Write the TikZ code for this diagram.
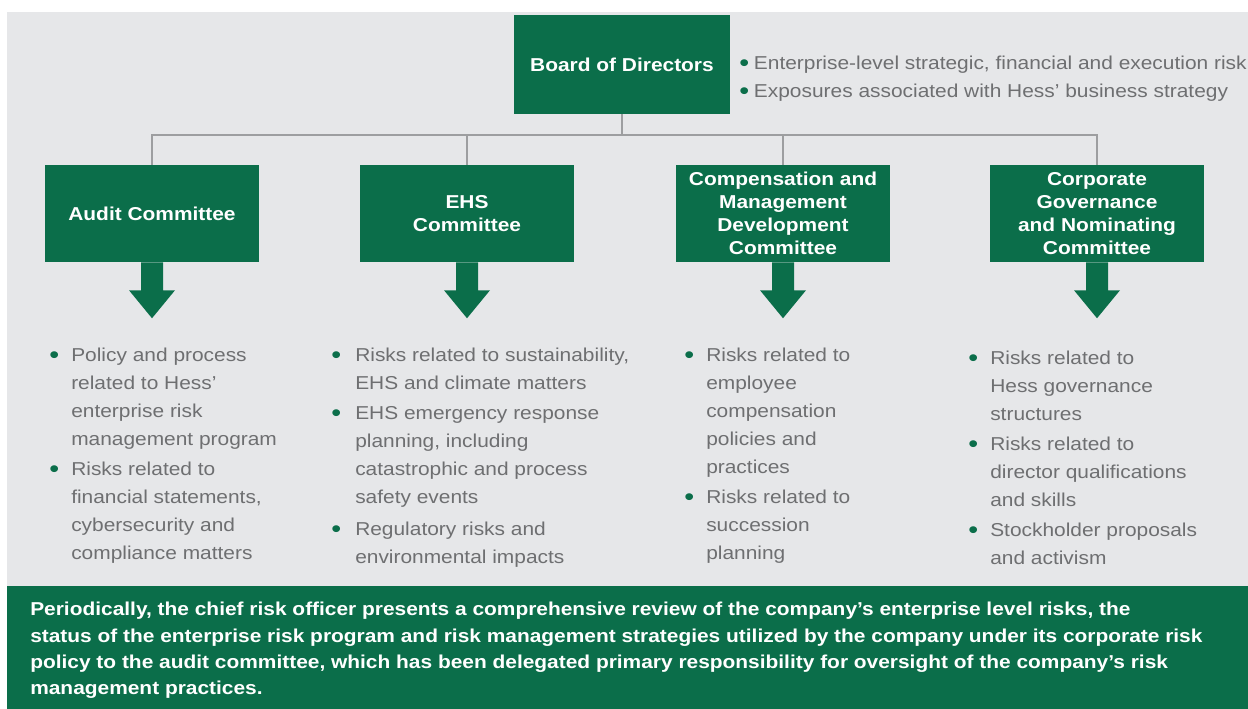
\documentclass[tikz,border=0pt]{standalone}
\usepackage{fontspec}
\setmainfont{Liberation Sans}[FakeStretch=1.12]
\usepackage{xcolor}
\usepackage{graphicx}
\usetikzlibrary{calc}
\usetikzlibrary{positioning}

\definecolor{hessgreen}{HTML}{0B6E4A}
\definecolor{panelgrey}{HTML}{E6E7E9}
\definecolor{linegrey}{HTML}{9D9EA0}
\definecolor{textgrey}{HTML}{6E6F71}

\newcommand{\bul}{\raisebox{-1.2pt}{\textcolor{hessgreen}{\scalebox{1.35}{\textbullet}}}}

\tikzset{
    board/.style={rectangle, fill=hessgreen, text=white, font=\bfseries\fontsize{14}{18}\selectfont, minimum width=162pt, minimum height=74.25pt, inner sep=0pt},
    committee/.style={rectangle, fill=hessgreen, text=white, font=\bfseries\fontsize{14}{17.25}\selectfont, minimum width=160.5pt, minimum height=72.75pt, align=center, inner sep=0pt},
    risklist/.style={inner sep=0pt, anchor=north west, text=textgrey, font=\fontsize{14}{21}\selectfont},
    tree/.style={draw=linegrey, line width=1.5pt},
    bigarrow/.style={fill=hessgreen}
}

\begin{document}
\begin{tikzpicture}[x=0.75pt, y=-0.75pt]
    \useasboundingbox (0,0) rectangle (1248,709);
    \fill[panelgrey] (7,12) rectangle (1248,586);

    \node [board] (board) at (622,64.5) {Board of Directors};
    \node [risklist, anchor=west] (boardlist) at (739,78) {\begin{tabular}{@{}p{11pt}@{}l@{}}\bul & Enterprise-level strategic, financial and execution risk\\ \bul & Exposures associated with Hess' business strategy\end{tabular}};

    \node [committee] (audit) at (152,213.5) {Audit Committee};
    \node [committee] (ehs) at (467,213.5) {EHS\\Committee};
    \node [committee] (comp) at (783,213.5) {Compensation and\\Management\\Development\\Committee};
    \node [committee] (corp) at (1097,213.5) {Corporate\\Governance\\and Nominating\\Committee};

    \draw [tree] (board.south) -- ++(0,20.5) coordinate (split) -| (audit.north);
    \draw [tree] (split) -| (ehs.north);
    \draw [tree] (split) -| (comp.north);
    \draw [tree] (split) -| (corp.north);

    \fill [bigarrow] ($(audit.south)+(-11,0)$) -- ++(0,28) -- ++(-12,0) -- ++(23,28) -- ++(23,-28) -- ++(-12,0) -- ++(0,-28) -- cycle;
    \fill [bigarrow] ($(ehs.south)+(-11,0)$) -- ++(0,28) -- ++(-12,0) -- ++(23,28) -- ++(23,-28) -- ++(-12,0) -- ++(0,-28) -- cycle;
    \fill [bigarrow] ($(comp.south)+(-11,0)$) -- ++(0,28) -- ++(-12,0) -- ++(23,28) -- ++(23,-28) -- ++(-12,0) -- ++(0,-28) -- cycle;
    \fill [bigarrow] ($(corp.south)+(-11,0)$) -- ++(0,28) -- ++(-12,0) -- ++(23,28) -- ++(23,-28) -- ++(-12,0) -- ++(0,-28) -- cycle;

    \node [risklist] (auditlist) at (49,342) {\begin{tabular}{@{}p{16.5pt}@{}l@{}}
        \bul & Policy and process\\
        & related to Hess'\\
        & enterprise risk\\
        & management program\\[1.5pt]
        \bul & Risks related to\\
        & financial statements,\\
        & cybersecurity and\\
        & compliance matters
    \end{tabular}};
    \node [risklist] (ehslist) at (331,342) {\begin{tabular}{@{}p{18pt}@{}l@{}}
        \bul & Risks related to sustainability,\\
        & EHS and climate matters\\[1.5pt]
        \bul & EHS emergency response\\
        & planning, including\\
        & catastrophic and process\\
        & safety events\\[3pt]
        \bul & Regulatory risks and\\
        & environmental impacts
    \end{tabular}};
    \node [risklist] (complist) at (684,342) {\begin{tabular}{@{}p{16.5pt}@{}l@{}}
        \bul & Risks related to\\
        & employee\\
        & compensation\\
        & policies and\\
        & practices\\[1.5pt]
        \bul & Risks related to\\
        & succession\\
        & planning
    \end{tabular}};
    \node [risklist] (corplist) at (968,345) {\begin{tabular}{@{}p{16.5pt}@{}l@{}}
        \bul & Risks related to\\
        & Hess governance\\
        & structures\\[1.5pt]
        \bul & Risks related to\\
        & director qualifications\\
        & and skills\\[1.5pt]
        \bul & Stockholder proposals\\
        & and activism
    \end{tabular}};

    \fill[hessgreen] (7,586) rectangle (1248,709);
    \node [inner sep=0pt, anchor=north west, align=left, text=white, font=\bfseries\fontsize{14}{19.7}\selectfont] (summary) at (30,602) {Periodically, the chief risk officer presents a comprehensive review of the company's enterprise level risks, the\\
        status of the enterprise risk program and risk management strategies utilized by the company under its corporate risk\\
        policy to the audit committee, which has been delegated primary responsibility for oversight of the company's risk\\
        management practices.};
\end{tikzpicture}
\end{document}
